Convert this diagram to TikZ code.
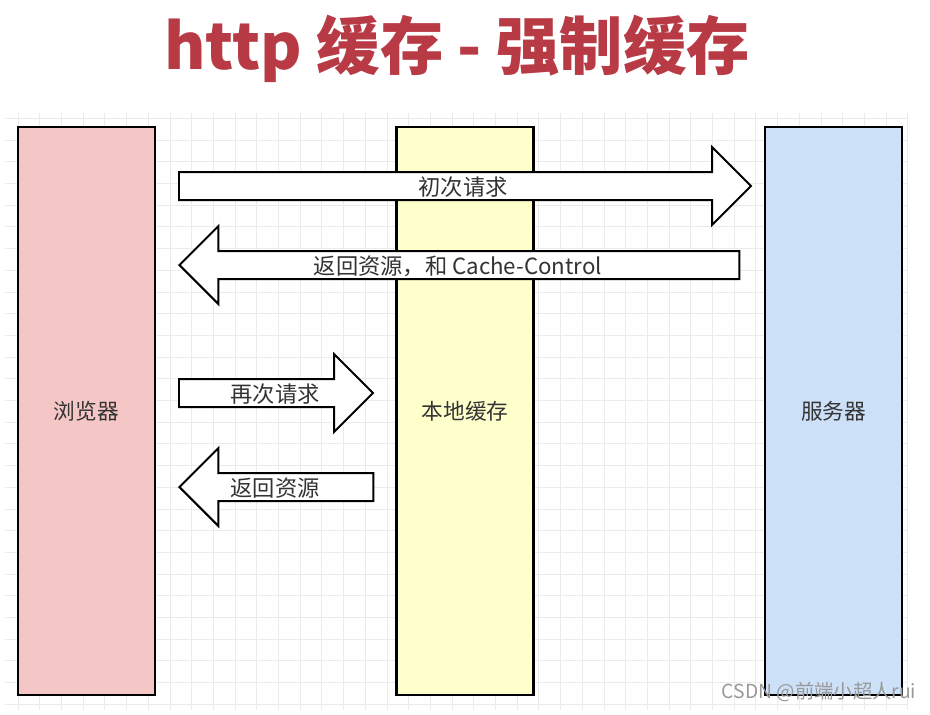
\documentclass[tikz,border=0pt]{standalone}
\usepackage{fontspec}
\setmainfont{Noto Sans CJK SC}
\usepackage{tikz}
\usetikzlibrary{shapes,arrows}
\usetikzlibrary{positioning}
\definecolor{titlered}{HTML}{B83A45}
\definecolor{browserpink}{HTML}{F5C6C6}
\definecolor{cacheyellow}{HTML}{FFFFCC}
\definecolor{serverblue}{HTML}{CCE0F8}
\definecolor{gridgray}{HTML}{EBEBEB}
\definecolor{textgray}{HTML}{333333}
\tikzstyle{column} = [
	draw,
	line width=2pt,
	minimum width=4.1cm,
	minimum height=17.04cm,
	text=textgray,
	font=\fontsize{18.5}{22}\selectfont
]
\tikzstyle{bigarrow} = [
	single arrow,
	draw,
	fill=white,
	line width=1.7pt,
	inner xsep=0pt,
	inner ysep=0.39cm,
	single arrow head extend=0.75cm,
	single arrow tip angle=90
]
\tikzstyle{label} = [text=textgray, font=\fontsize{19}{22}\selectfont]
\tikzstyle{gridline} = [gridgray, line width=0.6pt]

\begin{document}
\begin{tikzpicture}[x=0.03cm, y=-0.03cm]
	\useasboundingbox[fill=white] (0,0) rectangle (930,714);
	% grid background
	\foreach \i in {0,...,41}
		\draw[gridline] ({18+21.7*\i},113) -- ({18+21.7*\i},710);
	\foreach \j in {0,...,27}
		\draw[gridline] (5,{118.3+21.7*\j}) -- (908,{118.3+21.7*\j});

	\node[text=titlered, font=\fontsize{54}{62}\selectfont\bfseries, name=title] at (457,49) {http 缓存 - 强制缓存};

	\node[column, fill=browserpink, name=browser] at (86.5,411) {浏览器};
	\node[column, fill=cacheyellow, name=cache] at (465,411) {本地缓存};
	\node[column, fill=serverblue, name=server] at (833.5,411) {服务器};

	\node[bigarrow, anchor=tail, minimum height=17.16cm, name=first] at (178,186) {};
	\node[bigarrow, shape border rotate=180, anchor=tip, minimum height=16.8cm, name=back] at (178,265) {};
	\node[bigarrow, anchor=tail, minimum height=5.82cm, name=again] at (178,393) {};
	\node[bigarrow, shape border rotate=180, anchor=tip, minimum height=5.82cm, name=local] at (178,487) {};

	\node[label, name=firstlabel] at (463,187) {初次请求};
	\node[label, name=backlabel] at (458,266) {返回资源，和 Cache-Control};
	\node[label, name=againlabel] at (275,394) {再次请求};
	\node[label, name=locallabel] at (275,488) {返回资源};

	\node[text=black!40, font=\fontsize{16.5}{19}\selectfont, name=mark] at (819,692) {CSDN @前端小超人rui};
\end{tikzpicture}
\end{document}
